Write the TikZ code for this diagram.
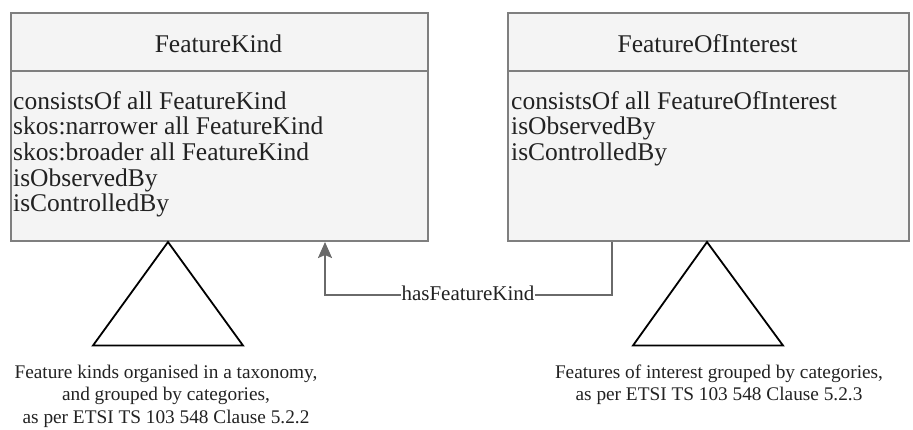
\documentclass[tikz,border=0pt]{standalone}
\usepackage{fontspec}
\setmainfont{Liberation Serif}
\usetikzlibrary{arrows.meta}

\definecolor{boxfill}{HTML}{F4F4F4}
\definecolor{boxline}{HTML}{7F7F7F}
\definecolor{linkline}{HTML}{6A6A6A}
\definecolor{ink}{HTML}{222222}

\tikzset{
  classbox/.style={draw=boxline, fill=boxfill, line width=2pt, inner sep=0pt,
    anchor=north west},
  divider/.style={draw=boxline, line width=2pt},
  titletext/.style={text=ink, inner sep=0pt, anchor=base,
    font=\fontsize{25.5}{26}\selectfont},
  attrtext/.style={text=ink, inner sep=0pt, anchor=base west,
    font=\fontsize{25.5}{26}\selectfont},
  link/.style={draw=linkline, line width=2pt,
    -{Stealth[length=16pt, width=14pt, inset=3pt]}},
  linklabel/.style={text=ink, fill=white, inner sep=1pt, anchor=base,
    font=\fontsize{21}{22}\selectfont},
  hierarchy/.style={draw=black, line width=1.8pt, fill=white, line join=miter},
  notetext/.style={text=ink, inner sep=0pt, anchor=base,
    font=\fontsize{19.3}{22.7}\selectfont},
}

\begin{document}
\begin{tikzpicture}[x=1pt, y=-1pt]
\useasboundingbox (0,0) rectangle (913,429);

% FeatureKind class
\node[classbox, minimum width=417pt, minimum height=228pt] (fk) at (10,12) {};
\draw[divider] (fk.west |- 0,71) -- (fk.east |- 0,71);
\node[titletext] (fkTitle) at (218.5,52) {FeatureKind};
\node[attrtext] (fkA1) at (13,109) {consistsOf all FeatureKind};
\node[attrtext] (fkA2) at (13,134.7) {skos:narrower all FeatureKind};
\node[attrtext] (fkA3) at (13,160.4) {skos:broader all FeatureKind};
\node[attrtext] (fkA4) at (13,186.1) {isObservedBy};
\node[attrtext] (fkA5) at (13,211.8) {isControlledBy};

% FeatureOfInterest class
\node[classbox, minimum width=401pt, minimum height=228pt] (foi) at (507,12) {};
\draw[divider] (foi.west |- 0,71) -- (foi.east |- 0,71);
\node[titletext] (foiTitle) at (707.5,52) {FeatureOfInterest};
\node[attrtext] (foiA1) at (511,109) {consistsOf all FeatureOfInterest};
\node[attrtext] (foiA2) at (511,134.7) {isObservedBy};
\node[attrtext] (foiA3) at (511,160.4) {isControlledBy};

% hasFeatureKind association
\coordinate (linkStart) at ([xshift=105pt]foi.south west);
\coordinate (linkEnd) at ([xshift=-104pt]fk.south east);
\draw[link] (linkStart) -- ++(0,53) -| (linkEnd);
\node[linklabel] (linkLbl) at (468,300) {hasFeatureKind};

% taxonomy triangles
\draw[hierarchy] (fk.south -| 168,0) -- (93,345.5) -- (243,345.5) -- cycle;
\draw[hierarchy] (foi.south -| 707,0) -- (633,345.5) -- (783,345.5) -- cycle;

% notes under the triangles
\node[notetext] (fkNote1) at (166,378) {Feature kinds organised in a taxonomy,};
\node[notetext] (fkNote2) at (166,400.7) {and grouped by categories,};
\node[notetext] (fkNote3) at (166,423.4) {as per ETSI TS 103 548 Clause 5.2.2};
\node[notetext] (foiNote1) at (719,378) {Features of interest grouped by categories,};
\node[notetext] (foiNote2) at (719,400.7) {as per ETSI TS 103 548 Clause 5.2.3};
\end{tikzpicture}
\end{document}
